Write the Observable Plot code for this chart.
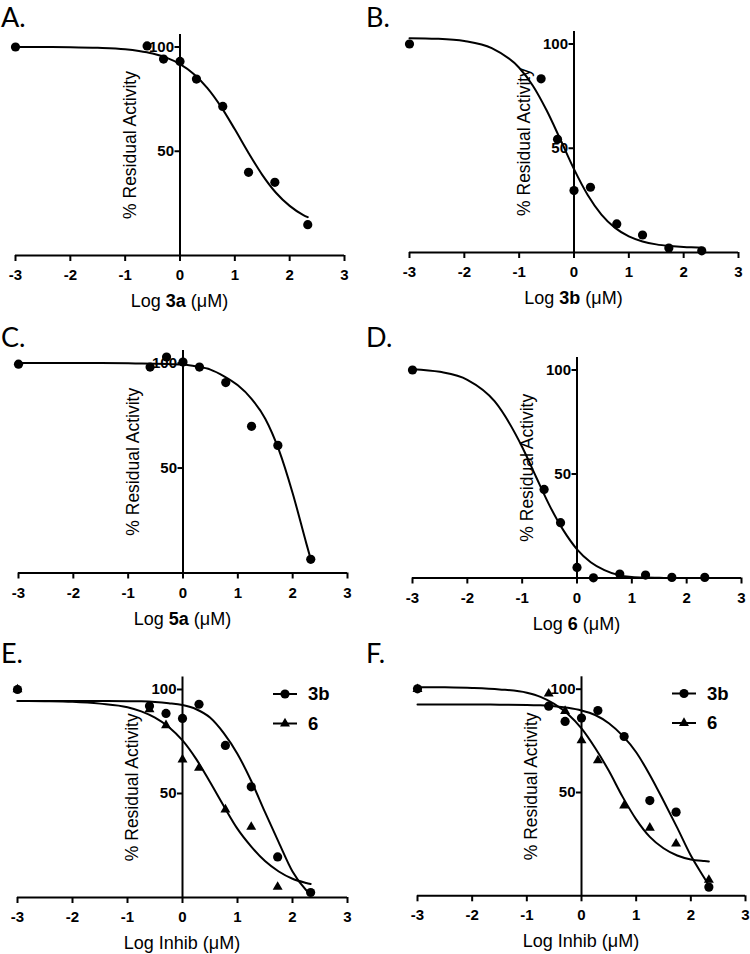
<!DOCTYPE html>
<html><head><meta charset="utf-8">
<script src="https://cdn.jsdelivr.net/npm/d3@7"></script>
<script src="https://cdn.jsdelivr.net/npm/@observablehq/plot@0.6"></script>
<style>
body{margin:0;background:#fff;}
#fig{position:relative;width:750px;height:954px;overflow:hidden;background:#fff;}
.panel{position:absolute;}
#overlay{position:absolute;left:0;top:0;pointer-events:none;}
</style></head><body><div id="fig"></div>
<script>
// ---------- data ----------
const logConc = [-3, -0.6, -0.3, 0, 0.3, 0.78, 1.25, 1.73, 2.33];
const resid3a = [100, 100.5, 94.2, 93.1, 84.6, 71.5, 39.9, 35.1, 14.8];
const resid3b = [100, 83.3, 54.3, 29.7, 31.3, 13.7, 8.4, 2.1, 0.8];
const resid5a = [99.5, 98.1, 102.9, 100.5, 98.1, 90.7, 69.9, 60.8, 6.5];
const resid6 = [100, 42.6, 26.6, 5.1, 0.1, 1.9, 1.4, 0.3, 0.3];
const residE3b = [100, 92.1, 88.5, 86.1, 92.9, 73.1, 53.2, 19.5, 2.4];
const residE6 = [100, 90.4, 82.8, 66.3, 62.3, 42.3, 33.9, 5.1, null];
const residF3b = [100.2, 91.8, 84.4, 86.0, 89.7, 77.1, 46.1, 40.5, 4.2];
const residF6 = [100, 97.8, 89.4, 75.2, 65.5, 43.7, 32.9, 25.2, 7.7];

// fitted curves at these log concentrations
const curveX = [-3, -2.5, -2, -1.5, -1, -0.75, -0.5, -0.25, 0, 0.25, 0.5, 0.75, 1, 1.25, 1.5, 1.75, 2, 2.25, 2.33];
const fit3a  = [100, 100, 99.9, 99.6, 98.9, 98.1, 96.9, 94.9, 91.8, 87.1, 80.3, 71.3, 60.5, 49.2, 38.7, 30.1, 23.8, 19.4, 18.4];
const fit3b  = [102.8, 102.5, 101.4, 98, 88.6, 80, 68.2, 54.3, 40, 27.6, 18.2, 11.8, 7.7, 5.3, 3.9, 3.1, 2.6, 2.4, 2.3];
const fit5a  = [100, 100, 100, 100, 99.9, 99.8, 99.7, 99.5, 99.3, 98.4, 96.9, 93.7, 89.4, 83, 73.5, 58.5, 38, 14, 6.5];
const fit6   = [100.4, 99.1, 95.3, 84.9, 63, 48.8, 34.8, 23, 13.8, 7.6, 3.8, 1.5, 0.5, 0.2, 0.1, 0, 0, 0, 0];
const fitE3b = [94.5, 94.5, 94.5, 94.5, 94.4, 94.3, 94, 93.4, 92.5, 90.5, 86.5, 79, 69, 56, 41, 26.5, 12.5, 3.5, 1.5];
const fitE6  = [94.5, 94.4, 94.1, 93.2, 91.5, 89.5, 86.5, 82, 75.5, 66.5, 55.5, 44, 33, 24.5, 17.5, 12.5, 9, 7, 6.5];
const fitF3b = [92.6, 92.6, 92.6, 92.5, 92.4, 92.2, 91.8, 91, 89.7, 87.5, 83.5, 77.5, 69.5, 58.5, 46, 33, 19.5, 8.5, 5];
const fitF6  = [101, 100.9, 100.6, 99.9, 98.3, 96.3, 92.9, 88, 81, 71.5, 60.5, 48, 37, 28.5, 23, 19.5, 17.6, 16.8, 16.6];

const panelLetters = ["A.", "B.", "C.", "D.", "E.", "F."];
const xLabelPlain = ["", "", "", "", "Inhib ", "Inhib "];
const xLabelBold = ["3a", "3b", "5a", "6", "", ""];
const xTicks = [-3, -2, -1, 0, 1, 2, 3];
const xTickLabels = ["-3", "-2", "-1", "0", "1", "2", "3"];
const yTicks = [50, 100];
const yTickLabels = ["50", "100"];
const yTop = 106;
const yTitle = "% Residual Activity";
const seriesNames = ["3b", "6"];

// ---------- layout ----------
const panels = [
  {left: 0,   top: 0,   h: 320, mL: 15, mR: 31, mT: 34, mB: 65, series: [{y: resid3a, fit: fit3a, sym: "circle"}]},
  {left: 375, top: 0,   h: 320, mL: 34, mR: 12, mT: 31, mB: 68, series: [{y: resid3b, fit: fit3b, sym: "circle"}]},
  {left: 0,   top: 320, h: 320, mL: 18, mR: 28, mT: 30, mB: 67.5, series: [{y: resid5a, fit: fit5a, sym: "circle"}]},
  {left: 375, top: 320, h: 320, mL: 37, mR: 9,  mT: 37, mB: 62.5, series: [{y: resid6, fit: fit6, sym: "circle"}]},
  {left: 0,   top: 640, h: 314, mL: 17, mR: 28, mT: 36.5, mB: 57, series: [{y: residE3b, fit: fitE3b, sym: "circle"}, {y: residE6, fit: fitE6, sym: "triangle"}], legend: {x: 273, y: 54}},
  {left: 375, top: 640, h: 314, mL: 42, mR: 5,  mT: 36.3, mB: 58.7, series: [{y: residF3b, fit: fitF3b, sym: "circle"}, {y: residF6, fit: fitF6, sym: "triangle"}], legend: {x: 297, y: 53.5}}
];
const FONT = "Liberation Sans, Arial, Helvetica, sans-serif";
const DOT_R = 4.6, TRI_R = 3.7;

const fig = document.getElementById("fig");

panels.forEach((p, k) => {
  const marks = [
    Plot.ruleY([0], {stroke: "black", strokeWidth: 2}),
    Plot.ruleX([0], {stroke: "black", strokeWidth: 2}),
    Plot.axisX(xTicks, {tickSize: 6, tickPadding: 8, stroke: "black", strokeWidth: 2, fill: "black",
      fontSize: 15, fontWeight: "bold", tickFormat: d => xTickLabels[xTicks.indexOf(d)], label: null}),
    Plot.ruleY(yTicks, {x1: 0, x2: 0, insetLeft: -5, stroke: "black", strokeWidth: 2}),
    Plot.text(yTicks, {x: 0, y: d => d, text: d => yTickLabels[yTicks.indexOf(d)], dx: -6,
      textAnchor: "end", fontSize: 15, fontWeight: "bold", fill: "black"}),
    Plot.text([yTitle], {x: 0, frameAnchor: "middle", rotate: -90, dx: -50, fontSize: 17.5, fill: "black"})
  ];
  p.series.forEach(s => {
    const curve = curveX.map((x, i) => ({x, y: s.fit[i]}));
    marks.push(Plot.line(curve, {x: "x", y: "y", curve: "monotone-x", stroke: "black", strokeWidth: 2}));
  });
  p.series.forEach(s => {
    const pts = logConc.map((x, i) => ({x, y: s.y[i]})).filter(d => d.y != null);
    marks.push(Plot.dot(pts, {x: "x", y: "y", r: s.sym === "circle" ? DOT_R : TRI_R, symbol: s.sym, fill: "black", stroke: "none"}));
  });
  const svg = Plot.plot({
    width: 375, height: p.h,
    marginLeft: p.mL, marginRight: p.mR, marginTop: p.mT, marginBottom: p.mB,
    x: {domain: [xTicks[0], xTicks[xTicks.length - 1]], axis: null},
    y: {domain: [0, yTop], axis: null},
    style: {fontFamily: FONT, background: "transparent", overflow: "visible", color: "black"},
    marks
  });
  const div = document.createElement("div");
  div.className = "panel";
  div.style.left = p.left + "px";
  div.style.top = p.top + "px";
  div.appendChild(svg);
  fig.appendChild(div);
});

// ---------- overlay: panel letters, x titles, legends ----------
const ov = d3.select(fig).append("svg").attr("id", "overlay").attr("width", 750).attr("height", 954);
panels.forEach((p, k) => {
  const col = p.left === 0 ? 1 : 366;
  const letterBase = p.top + (p.top === 640 ? 23 : 27);
  ov.append("text").attr("x", col).attr("y", letterBase)
    .attr("font-family", "Lato, Open Sans, sans-serif").attr("font-size", 27).attr("fill", "black")
    .text(panelLetters[k]);
  const cx = p.left + p.mL + (375 - p.mL - p.mR) / 2;
  const base = p.top + (p.h - p.mB) + 52;
  const t = ov.append("text").attr("x", cx).attr("y", base).attr("text-anchor", "middle")
    .attr("font-family", FONT).attr("font-size", 18).attr("fill", "black");
  t.append("tspan").text("Log " + xLabelPlain[k]);
  if (xLabelBold[k]) t.append("tspan").attr("font-weight", "bold").text(xLabelBold[k]);
  t.append("tspan").text(" (\u03bcM)");
  if (p.legend) {
    p.series.forEach((s, j) => {
      const y = p.top + p.legend.y + j * 29.5;
      const x0 = p.left + p.legend.x;
      ov.append("line").attr("x1", x0).attr("x2", x0 + 24).attr("y1", y).attr("y2", y)
        .attr("stroke", "black").attr("stroke-width", 2);
      const r = s.sym === "circle" ? DOT_R : TRI_R;
      ov.append("path")
        .attr("d", d3.symbol(s.sym === "circle" ? d3.symbolCircle : d3.symbolTriangle, Math.PI * r * r)())
        .attr("transform", `translate(${x0 + 12},${y})`).attr("fill", "black");
      ov.append("text").attr("x", x0 + 35).attr("y", y).attr("dy", "0.35em")
        .attr("font-family", FONT).attr("font-size", 18.5).attr("font-weight", "bold").attr("fill", "black")
        .text(seriesNames[j]);
    });
  }
});
</script></body></html>
